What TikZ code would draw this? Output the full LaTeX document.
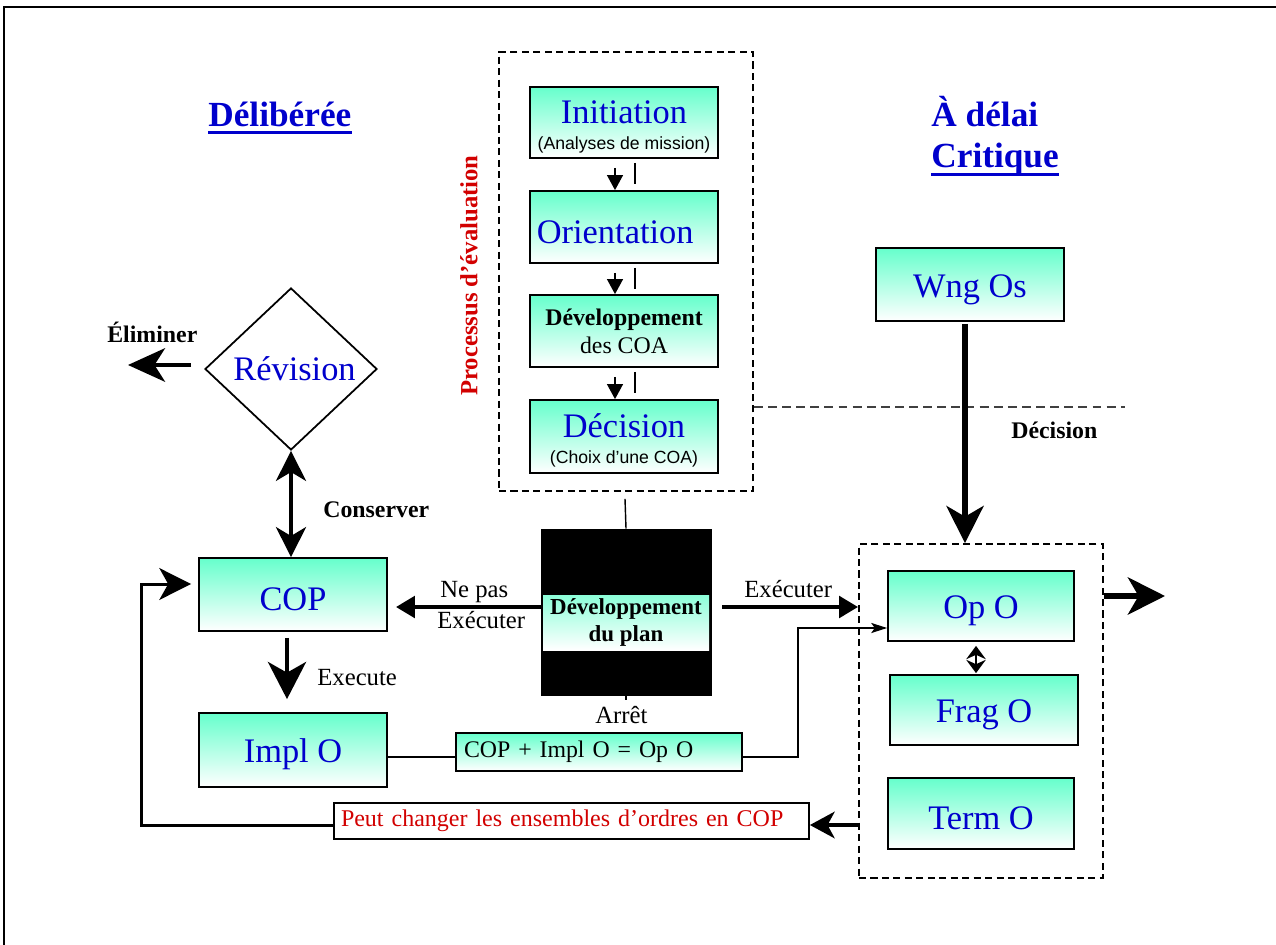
\documentclass[tikz,border=0pt]{standalone}
\usepackage{fontspec}
\setmainfont{Liberation Serif}
\newfontfamily\arialf{Liberation Sans}
\usetikzlibrary{arrows.meta,shapes.geometric,calc}
\definecolor{txtblue}{RGB}{0,0,204}
\definecolor{txtred}{RGB}{210,0,0}
\definecolor{aqua}{RGB}{102,255,204}
\newcommand\pxl{0.5669pt}
\newcommand\fs[2]{\fontsize{#1}{#2}\selectfont}
\newcommand\topstrut{\rule{0pt}{18pt}}
\begin{document}
\begin{tikzpicture}[x=0.5669pt,y=-0.5669pt,
  box/.style={draw,line width=1pt,top color=aqua,bottom color=white,
    minimum width=188*\pxl,minimum height=72*\pxl,inner sep=0pt,
    text=txtblue,font=\fs{19.5}{21},align=center},
  bigtxt/.style={text height=18.5pt},
  dashbox/.style={draw,line width=1pt,dash pattern=on 4pt off 2.5pt},
  divider/.style={draw=black!75,line width=0.7pt,dash pattern=on 5pt off 3pt},
  title/.style={inner sep=0pt,text=txtblue,font=\bfseries\fs{20}{24}},
  lbl/.style={inner sep=0pt,font=\fs{14}{16}},
  blbl/.style={inner sep=0pt,font=\bfseries\fs{13.5}{16}},
  evalarrow/.style={line width=0.9pt,-{Triangle[length=8.5pt,width=9pt]}},
  medarrow/.style={line width=2.8pt,-{Triangle[length=10.8pt,width=12pt]}},
  bigarrow/.style={line width=3.4pt,-{Stealth[length=21pt,width=21pt,inset=6pt]}},
  elimarrow/.style={line width=2.3pt,-{Stealth[length=21pt,width=19pt,inset=6pt]}},
  execarrow/.style={line width=2.8pt,-{Stealth[length=21pt,width=21.5pt,inset=6pt]}},
  dblarrow/.style={line width=2.3pt,{Stealth[length=17pt,width=17pt,inset=5pt]}-{Stealth[length=17pt,width=17pt,inset=5pt]}},
  looparrow/.style={line width=1.7pt,-{Stealth[length=18pt,width=18pt,inset=5pt]}},
  peutarrow/.style={line width=2.3pt,-{Stealth[length=14pt,width=15pt,inset=4pt]}},
  thinarrow/.style={line width=0.8pt,-{Stealth[length=9pt,width=5.7pt,inset=2pt]}},
  opfrag/.style={line width=1.2pt,{Stealth[length=7.5pt,width=11pt]}-{Stealth[length=7.5pt,width=11pt]}}
]
\useasboundingbox (0,0) rectangle (1276,945);

% outer frame (top and left edges)
\draw[line width=1.2pt] (4,945) -- (4,7) -- (1276,7);

% group frames
\node[dashbox,minimum width=254*\pxl,minimum height=439*\pxl] (evalbox) at (626,271.5) {};
\node[dashbox,minimum width=244*\pxl,minimum height=334*\pxl] (opsbox) at (981,711) {};
\coordinate (divend) at (1125,407);
\draw[divider] (evalbox.east |- divend) -- (divend);

% headings
\node[title,anchor=base west] (delib) at (208,127) {Délibérée};
\draw[txtblue,line width=1.7pt] ($(delib.base west)+(0,6)$) -- ($(delib.base east)+(0,6)$);
\node[title,anchor=base west] (adelai) at (931,127) {À délai};
\node[title,anchor=base west] (crit) at (931,168) {Critique};
\draw[txtblue,line width=1.7pt] ($(crit.base west)+(0,7)$) -- ($(crit.base east)+(0,7)$);

% evaluation process
\node[rotate=90,text=txtred,font=\bfseries\fs{14}{16},inner sep=0pt] (proc) at (469,275.5) {Processus d’évaluation};
\node[box,minimum height=71*\pxl] (init) at (624,122.5)
  {\topstrut Initiation\\[-6pt]{\arialf\fs{10}{12}\color{black}(Analyses de mission)}};
\node[box,bigtxt] (orient) at (624,227) {Orientation\hspace*{10pt}};
\node[box,text=black,font=\fs{13.5}{16}] (devcoa) at (624,331)
  {\textbf{Développement}\\des COA};
\node[box,minimum height=73*\pxl] (dec) at (624,436.5)
  {\topstrut Décision\\[-6pt]{\arialf\fs{10}{12}\color{black}(Choix d’une COA)}};
\foreach \a/\b in {init/orient,orient/devcoa,devcoa/dec}{
  \draw[evalarrow] ($(\a.south)+(-9,9)$) -- ($(\b.north)+(-9,0)$);
  \draw[line width=0.9pt] ($(\a.south)+(11,4)$) -- ++(0,21);
}

% plan development
\node[draw,fill=black,minimum width=170*\pxl,minimum height=166*\pxl,inner sep=0pt] (plan) at (626,612) {};
\node[top color=aqua!75,bottom color=white,minimum width=166*\pxl,minimum height=55*\pxl,
  inner sep=0pt,align=center,font=\bfseries\fs{13}{15}] (band) at (626,622.5) {Développement\\du plan};
\draw[line width=0.8pt] ($(dec.south)+(1,25)$) -- (plan.north);
\draw[line width=1pt] (plan.south) -- ++(0,5);
\node[lbl,anchor=base west] (arret) at (595,723) {Arrêt};

% deliberate side
\node[draw,diamond,line width=1pt,minimum width=172*\pxl,minimum height=162*\pxl,inner sep=0pt,
  text=txtblue,font=\fs{19.5}{21}] (rev) at (291,369) {\hspace*{4pt}Révision};
\node[box,bigtxt,minimum height=73*\pxl] (cop) at (293,594.5) {COP};
\node[box,bigtxt,minimum height=74*\pxl] (impl) at (293,750) {Impl O};
\node[box,text=black,font=\fs{13.5}{16},minimum width=0pt,minimum height=38*\pxl,
  text width=270*\pxl,inner xsep=8*\pxl,align=left] (sum) at (599,752) {COP + Impl O = Op O};
\node[draw,fill=white,line width=1pt,minimum height=36*\pxl,text=txtred,font=\fs{13.6}{16},
  text width=461*\pxl,inner xsep=7*\pxl,inner ysep=0pt,align=left] (peut) at (571.5,821)
  {Peut changer les ensembles d’ordres en COP};

\coordinate (elimend) at (128,365);
\draw[elimarrow] ($(rev.west)+(-13,-4)$) -- (elimend);
\node[blbl,anchor=base west] (elim) at (107,343) {Éliminer};
\draw[dblarrow] (rev.south) -- (rev.south |- cop.north);
\node[blbl,anchor=base west] (cons) at (323,517) {Conserver};
\draw[execarrow] ($(cop.south)+(-6,6)$) -- ($(impl.north)+(-6,-13)$);
\node[lbl,anchor=base west] (execu) at (317,685) {Execute};
\draw[line width=1pt] ($(impl.east)+(0,7)$) -- ($(sum.west)+(0,5)$);

% plan outcomes
\draw[medarrow] ($(plan.west)+(0,-5)$) -- ($(cop.east)+(8,12.5)$);
\node[lbl,anchor=base west] (nepas) at (440,597) {Ne pas};
\node[lbl,anchor=base west] (nexec) at (437,628) {Exécuter};
\coordinate (exs) at ($(plan.east)+(11,-5)$);
\draw[medarrow] (exs) -- (exs -| opsbox.west);
\node[lbl,anchor=base west] (exec) at (744,597) {Exécuter};

% time-critical side
\node[box,bigtxt,minimum height=73*\pxl] (wng) at (970,284.5) {Wng Os};
\coordinate (ws) at ($(wng.south)+(-5,2)$);
\draw[bigarrow] (ws) -- (ws |- opsbox.north);
\node[blbl,anchor=base west] (decl) at (1011,438) {Décision};
\node[box,bigtxt,minimum width=186*\pxl,minimum height=70*\pxl] (op) at (981,606) {Op O};
\node[box,bigtxt,minimum height=70*\pxl] (frag) at (984,710) {Frag O};
\node[box,bigtxt,minimum width=186*\pxl,minimum height=71*\pxl] (term) at (981,813.5) {Term O};
\draw[opfrag] ($(op.south)+(-5,4)$) -- ($(frag.north)+(-8,-1)$);
\coordinate (outend) at (1165,596);
\draw[bigarrow] (opsbox.east |- outend) -- (outend);

% links between the two sides
\coordinate (bend) at (798,628);
\draw[thinarrow] ($(sum.east)+(0,5)$) -| (bend) -- (bend -| op.west);
\coordinate (pe) at ($(opsbox.west)+(0,114)$);
\draw[peutarrow] (pe) -- (pe -| peut.east);
\coordinate (loop) at (141,584);
\draw[looparrow] (pe -| peut.west) -| (loop) -- ($(loop -| cop.west)+(-7,0)$);
\end{tikzpicture}
\end{document}
